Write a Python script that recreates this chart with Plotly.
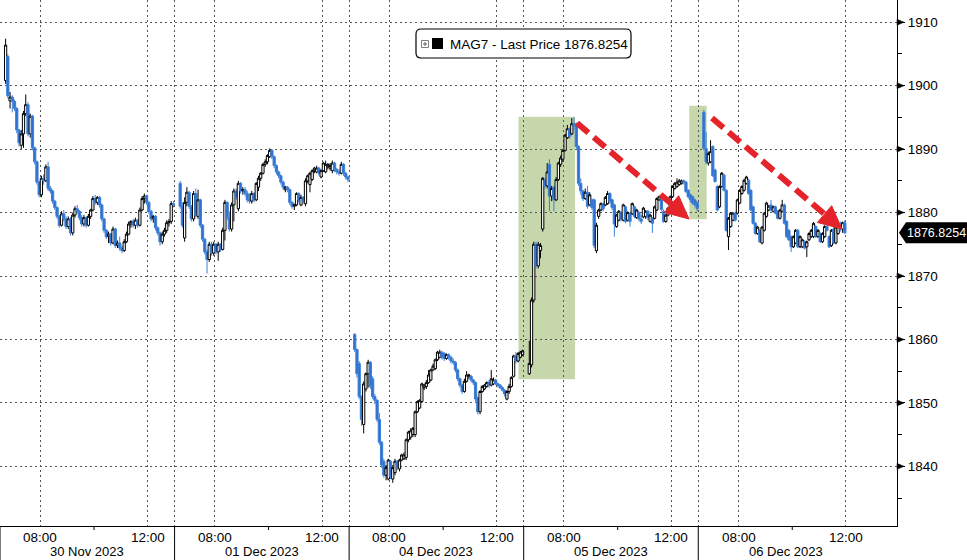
import plotly.graph_objects as go

# ---------------- data ----------------
DAY_LABELS = ["30 Nov 2023", "01 Dec 2023", "04 Dec 2023", "05 Dec 2023", "06 Dec 2023"]
SESSION_MIN = 390          # 06:30 - 13:00 session length (minutes)
BAR_MIN = 5                # 5-minute candles
FIRST_BAR = 2              # first printed bar of each session
TICK_TIMES = [("08:00", 90), ("12:00", 330)]   # minutes after 06:30
MINOR_TIME = 210           # 10:00
Y_TICKS = [1840, 1850, 1860, 1870, 1880, 1890, 1900, 1910]
LAST_PRICE = 1876.8254
SERIES_NAME = "MAG7 - Last Price"

# (open, high, low, close) per 5-min bar
nov30 = [
    (1900.8, 1907.4, 1900.3, 1906.4), (1904.6, 1905.0, 1898.0, 1898.4), (1897.6, 1899.0, 1896.4, 1898.2),
    (1898.2, 1898.5, 1895.8, 1897.5), (1897.5, 1897.8, 1896.0, 1896.4), (1896.4, 1896.6, 1892.5, 1893.0),
    (1893.0, 1893.2, 1890.4, 1891.0), (1890.6, 1893.0, 1890.0, 1892.4), (1892.4, 1896.0, 1890.2, 1895.6),
    (1895.6, 1898.6, 1895.2, 1897.0), (1897.0, 1897.4, 1892.0, 1892.4), (1892.4, 1895.6, 1891.8, 1895.2),
    (1895.2, 1895.4, 1889.8, 1890.2), (1890.2, 1890.4, 1887.6, 1888.0), (1888.0, 1888.2, 1884.4, 1884.8),
    (1884.8, 1885.0, 1882.4, 1882.8), (1882.8, 1885.8, 1882.4, 1885.4), (1885.4, 1886.0, 1884.4, 1885.0),
    (1885.0, 1887.6, 1884.8, 1887.2), (1887.2, 1888.0, 1883.4, 1883.8), (1883.8, 1884.2, 1883.0, 1883.4),
    (1883.4, 1883.6, 1881.4, 1881.8), (1881.8, 1882.0, 1880.4, 1880.8), (1880.8, 1881.0, 1879.0, 1879.4),
    (1879.4, 1879.6, 1877.6, 1878.0), (1878.0, 1880.2, 1877.8, 1879.8), (1879.8, 1880.4, 1878.6, 1879.0),
    (1879.0, 1879.4, 1877.4, 1877.8), (1877.8, 1879.4, 1877.4, 1879.0), (1879.0, 1879.3, 1876.4, 1876.8),
    (1876.8, 1880.0, 1876.4, 1879.6), (1879.6, 1881.0, 1879.2, 1880.6), (1880.6, 1881.2, 1879.8, 1880.2),
    (1880.2, 1880.4, 1878.8, 1879.2), (1879.2, 1879.6, 1877.8, 1878.2), (1878.2, 1879.6, 1877.8, 1879.2),
    (1879.2, 1879.4, 1877.6, 1878.0), (1878.0, 1879.8, 1877.8, 1879.4), (1879.4, 1880.6, 1879.0, 1880.4),
    (1880.4, 1882.6, 1880.2, 1882.2), (1882.2, 1882.8, 1881.2, 1881.6), (1881.6, 1882.6, 1881.2, 1882.4),
    (1882.4, 1882.6, 1880.8, 1881.2), (1881.2, 1881.4, 1878.6, 1879.0), (1879.0, 1879.2, 1876.8, 1877.2),
    (1877.2, 1877.4, 1875.8, 1876.2), (1876.2, 1877.0, 1875.2, 1876.6), (1876.6, 1876.8, 1874.8, 1875.2),
    (1875.2, 1877.8, 1875.0, 1877.4), (1877.4, 1877.6, 1874.4, 1874.8), (1874.8, 1875.6, 1874.4, 1875.2),
    (1875.2, 1876.2, 1874.0, 1874.4), (1874.4, 1874.8, 1873.6, 1874.0), (1874.0, 1875.8, 1873.8, 1875.4),
    (1875.4, 1877.0, 1875.2, 1876.6), (1876.6, 1878.6, 1876.4, 1878.2), (1878.2, 1878.8, 1877.6, 1878.6),
    (1878.6, 1879.0, 1877.6, 1878.0), (1878.0, 1879.2, 1877.4, 1878.8), (1878.8, 1879.0, 1877.6, 1878.0),
    (1878.0, 1880.8, 1877.8, 1880.4), (1880.4, 1882.6, 1880.2, 1882.2), (1882.2, 1883.0, 1881.4, 1882.6),
    (1882.6, 1882.8, 1881.2, 1881.6), (1881.6, 1881.8, 1879.8, 1880.2), (1880.2, 1880.4, 1878.6, 1879.0),
    (1879.0, 1879.6, 1878.4, 1879.4), (1879.4, 1879.6, 1877.2, 1877.6), (1877.6, 1877.8, 1876.4, 1876.8),
    (1876.8, 1877.0, 1874.8, 1875.4), (1875.4, 1877.0, 1875.0, 1876.6), (1876.6, 1877.6, 1876.2, 1877.2),
    (1877.2, 1878.8, 1876.8, 1878.4), (1878.4, 1879.0, 1877.8, 1878.6), (1878.6, 1881.8, 1878.2, 1881.4),
    (1881.4, 1881.8, 1880.8, 1881.2),
]

dec01 = [
    (1884.6, 1885.0, 1880.6, 1881.0), (1881.0, 1881.6, 1877.6, 1878.0), (1876.0, 1882.4, 1875.4, 1881.6),
    (1881.6, 1884.0, 1881.0, 1883.2), (1883.2, 1883.4, 1880.6, 1881.0), (1881.0, 1881.2, 1878.6, 1879.0),
    (1879.0, 1883.4, 1878.6, 1883.0), (1883.0, 1883.8, 1879.2, 1879.6), (1879.4, 1883.6, 1879.0, 1882.0),
    (1882.0, 1882.2, 1877.6, 1878.0), (1878.0, 1878.2, 1875.4, 1875.8), (1875.8, 1876.0, 1873.4, 1873.8),
    (1873.8, 1874.2, 1870.4, 1872.6), (1872.6, 1875.4, 1872.2, 1875.0), (1875.0, 1875.4, 1873.2, 1873.6),
    (1873.6, 1875.4, 1873.2, 1875.0), (1875.0, 1875.2, 1873.4, 1873.8), (1873.8, 1875.4, 1872.4, 1875.0),
    (1875.0, 1875.2, 1873.8, 1874.2), (1874.2, 1877.6, 1874.0, 1877.2), (1877.2, 1882.0, 1875.6, 1881.6),
    (1881.6, 1881.8, 1878.8, 1879.2), (1879.2, 1880.2, 1877.0, 1877.4), (1877.4, 1881.6, 1877.0, 1881.2),
    (1881.2, 1883.8, 1878.6, 1883.4), (1883.4, 1883.8, 1882.0, 1882.4), (1880.6, 1885.0, 1880.2, 1884.6),
    (1884.6, 1884.8, 1883.0, 1883.4), (1883.4, 1884.0, 1882.8, 1883.6), (1883.6, 1884.0, 1882.6, 1883.0),
    (1883.0, 1883.4, 1881.6, 1882.0), (1882.0, 1883.0, 1881.4, 1881.8), (1881.8, 1883.4, 1881.4, 1883.0),
    (1883.0, 1883.2, 1881.6, 1882.0), (1882.0, 1884.8, 1881.8, 1884.6), (1884.0, 1885.8, 1883.4, 1885.4),
    (1885.4, 1886.4, 1885.0, 1886.2), (1886.2, 1887.8, 1886.0, 1887.6), (1887.6, 1888.4, 1887.2, 1888.0),
    (1888.0, 1889.2, 1887.6, 1889.0), (1888.8, 1890.1, 1888.6, 1889.8), (1889.8, 1890.0, 1888.4, 1888.8),
    (1888.8, 1889.0, 1887.0, 1887.4), (1887.4, 1887.6, 1886.0, 1886.4), (1886.4, 1886.6, 1885.4, 1885.8),
    (1885.8, 1886.0, 1884.4, 1884.8), (1884.8, 1885.0, 1883.6, 1884.0), (1883.6, 1884.2, 1883.2, 1884.0),
    (1884.0, 1884.2, 1883.2, 1883.6), (1883.6, 1883.8, 1881.2, 1881.6), (1881.6, 1881.8, 1880.6, 1881.0),
    (1881.0, 1881.4, 1880.4, 1881.2), (1881.2, 1883.2, 1881.0, 1883.0), (1883.0, 1883.2, 1881.6, 1882.0),
    (1881.2, 1882.8, 1881.0, 1882.4), (1882.4, 1882.6, 1881.4, 1881.8), (1881.4, 1885.4, 1881.0, 1885.0),
    (1885.0, 1886.0, 1884.6, 1885.8), (1884.4, 1886.4, 1883.2, 1886.2), (1885.2, 1886.8, 1885.0, 1886.6),
    (1886.6, 1887.2, 1886.2, 1887.0), (1886.4, 1887.4, 1886.2, 1887.0), (1887.0, 1887.2, 1885.8, 1886.2),
    (1885.6, 1886.8, 1885.4, 1886.6), (1886.6, 1888.0, 1886.4, 1887.8), (1886.4, 1888.2, 1886.2, 1887.6),
    (1887.2, 1887.8, 1886.8, 1887.6), (1887.0, 1887.8, 1886.6, 1887.4), (1886.6, 1888.2, 1886.2, 1887.8),
    (1887.8, 1888.0, 1886.4, 1886.8), (1886.8, 1887.0, 1886.0, 1886.4), (1886.4, 1886.8, 1885.8, 1886.2),
    (1886.2, 1888.0, 1886.0, 1887.6), (1887.6, 1887.8, 1885.8, 1886.2), (1886.2, 1886.4, 1885.2, 1885.6),
    (1885.6, 1885.8, 1884.8, 1885.2),
]

dec04 = [
    (1860.8, 1861.0, 1858.0, 1858.4), (1858.4, 1858.6, 1854.0, 1854.6), (1856.2, 1856.6, 1850.6, 1851.0),
    (1851.0, 1851.2, 1846.4, 1847.4), (1846.6, 1853.4, 1845.2, 1853.0), (1852.2, 1854.8, 1851.8, 1854.6),
    (1854.6, 1856.8, 1852.4, 1856.4), (1856.4, 1856.6, 1852.2, 1852.6), (1853.8, 1854.2, 1850.6, 1851.0),
    (1851.0, 1851.4, 1849.8, 1850.4), (1850.4, 1850.6, 1847.0, 1847.4), (1847.4, 1848.4, 1843.4, 1843.8),
    (1843.8, 1844.0, 1839.8, 1840.2), (1840.8, 1841.2, 1838.2, 1838.6), (1838.6, 1840.2, 1837.8, 1839.8),
    (1838.0, 1841.2, 1837.8, 1841.0), (1840.8, 1841.0, 1838.0, 1838.4), (1838.0, 1840.2, 1837.4, 1839.8),
    (1839.0, 1841.2, 1838.6, 1840.8), (1840.8, 1841.0, 1839.4, 1839.8), (1839.6, 1841.2, 1839.2, 1841.0),
    (1841.0, 1842.0, 1840.8, 1841.8), (1841.2, 1842.2, 1841.0, 1841.8), (1841.4, 1844.4, 1841.0, 1844.2),
    (1844.2, 1845.6, 1843.8, 1845.4), (1844.6, 1846.0, 1844.2, 1845.6), (1845.0, 1846.2, 1844.6, 1846.0),
    (1845.0, 1848.8, 1844.6, 1848.6), (1848.6, 1850.4, 1848.4, 1850.2), (1849.2, 1850.6, 1849.0, 1850.4),
    (1850.2, 1853.2, 1850.0, 1853.0), (1852.4, 1853.0, 1852.0, 1852.8), (1852.6, 1853.6, 1852.2, 1853.2),
    (1853.2, 1855.2, 1853.0, 1854.4), (1853.6, 1855.4, 1853.4, 1855.2), (1855.2, 1856.2, 1855.0, 1855.8),
    (1855.4, 1857.0, 1855.2, 1856.8), (1856.8, 1858.2, 1856.6, 1858.0), (1857.2, 1858.4, 1857.0, 1858.0),
    (1858.0, 1858.2, 1856.8, 1857.2), (1857.8, 1858.0, 1856.6, 1857.0), (1857.0, 1857.8, 1856.8, 1857.6),
    (1857.6, 1857.8, 1856.8, 1857.2), (1857.2, 1857.4, 1856.2, 1856.6), (1856.6, 1857.0, 1856.0, 1856.4),
    (1856.4, 1856.6, 1854.8, 1855.2), (1855.2, 1855.4, 1853.4, 1853.8), (1853.8, 1854.0, 1852.4, 1852.8),
    (1852.8, 1853.0, 1851.4, 1851.8), (1851.8, 1853.8, 1851.6, 1853.4), (1853.4, 1855.0, 1853.2, 1854.4),
    (1854.2, 1854.6, 1853.8, 1854.4), (1854.2, 1854.4, 1853.2, 1853.6), (1853.6, 1853.8, 1852.8, 1853.2),
    (1853.2, 1853.4, 1850.2, 1850.6), (1850.8, 1851.0, 1848.2, 1848.6), (1848.6, 1852.0, 1848.2, 1851.8),
    (1851.8, 1852.8, 1851.6, 1852.6), (1852.2, 1853.0, 1852.0, 1852.8), (1852.6, 1853.4, 1852.4, 1853.2),
    (1853.2, 1853.6, 1852.4, 1852.8), (1852.8, 1855.2, 1852.6, 1853.8), (1853.0, 1854.0, 1852.8, 1853.6),
    (1853.6, 1853.8, 1852.8, 1853.0), (1853.0, 1853.2, 1852.4, 1852.8), (1852.8, 1853.0, 1852.2, 1852.4),
    (1852.4, 1852.6, 1851.8, 1852.0), (1852.0, 1852.2, 1851.0, 1851.4), (1850.6, 1852.0, 1850.4, 1851.8),
    (1851.8, 1853.0, 1851.4, 1852.6), (1852.6, 1854.2, 1852.4, 1854.0), (1854.2, 1857.6, 1854.0, 1857.4),
    (1857.4, 1858.0, 1856.2, 1856.6), (1856.6, 1858.0, 1856.4, 1857.8), (1857.2, 1858.2, 1857.0, 1858.0),
    (1857.6, 1858.4, 1857.4, 1858.2),
]

dec05 = [
    (1854.6, 1859.8, 1854.4, 1856.2), (1856.0, 1866.6, 1855.6, 1866.2), (1866.2, 1875.4, 1865.8, 1875.0),
    (1875.0, 1875.4, 1871.2, 1871.6), (1871.6, 1875.4, 1871.2, 1875.0), (1874.0, 1875.2, 1872.8, 1874.8),
    (1877.4, 1885.6, 1877.0, 1885.4), (1885.0, 1885.4, 1883.8, 1884.2), (1884.2, 1887.8, 1883.8, 1886.4),
    (1887.6, 1888.4, 1880.2, 1882.6), (1882.6, 1884.2, 1881.8, 1883.8), (1884.0, 1884.2, 1880.2, 1882.0),
    (1882.0, 1885.6, 1881.8, 1885.2), (1885.2, 1888.0, 1885.0, 1887.8), (1887.6, 1889.0, 1887.2, 1888.6),
    (1888.4, 1890.0, 1888.0, 1889.8), (1889.8, 1892.4, 1889.6, 1892.2), (1891.8, 1893.8, 1891.6, 1893.2),
    (1893.2, 1893.4, 1891.6, 1892.0), (1892.4, 1894.9, 1892.2, 1894.0), (1894.0, 1895.0, 1893.0, 1893.6),
    (1894.0, 1894.2, 1890.0, 1890.4), (1890.4, 1890.6, 1884.2, 1884.6), (1884.6, 1885.4, 1882.8, 1883.4),
    (1883.4, 1883.6, 1881.8, 1882.2), (1882.2, 1883.8, 1882.0, 1883.2), (1883.2, 1884.2, 1880.6, 1881.0),
    (1881.2, 1883.2, 1881.0, 1882.8), (1882.0, 1882.2, 1880.4, 1880.8), (1882.0, 1882.2, 1874.4, 1874.8),
    (1874.0, 1878.4, 1873.6, 1878.0), (1879.4, 1880.6, 1879.0, 1880.4), (1880.4, 1881.6, 1880.2, 1881.4),
    (1881.4, 1881.6, 1880.2, 1880.6), (1881.2, 1882.6, 1881.0, 1882.4), (1881.4, 1883.4, 1881.2, 1883.0),
    (1883.0, 1883.2, 1881.4, 1881.8), (1882.0, 1882.2, 1880.4, 1880.8), (1881.2, 1881.4, 1876.2, 1878.2),
    (1877.8, 1879.8, 1877.6, 1879.6), (1878.8, 1880.4, 1878.6, 1880.2), (1880.0, 1880.2, 1878.6, 1879.0),
    (1878.8, 1881.4, 1878.6, 1881.2), (1880.9, 1881.1, 1878.3, 1878.6), (1878.8, 1880.2, 1878.6, 1880.0),
    (1879.8, 1880.0, 1877.8, 1878.6), (1879.8, 1881.6, 1879.6, 1881.4), (1880.9, 1881.1, 1879.1, 1879.4),
    (1879.2, 1880.6, 1879.0, 1880.4), (1880.0, 1880.2, 1878.6, 1879.0), (1879.0, 1879.6, 1878.2, 1878.6),
    (1879.3, 1880.9, 1879.1, 1880.7), (1879.4, 1880.4, 1879.0, 1880.2), (1880.2, 1880.4, 1878.8, 1879.2),
    (1878.6, 1879.8, 1878.4, 1879.6), (1879.1, 1879.3, 1876.8, 1878.3), (1879.1, 1881.1, 1878.9, 1880.9),
    (1880.4, 1882.4, 1880.2, 1882.2), (1882.0, 1882.7, 1881.8, 1882.5), (1882.0, 1882.3, 1880.2, 1880.5),
    (1880.2, 1880.5, 1878.4, 1878.6), (1878.6, 1879.8, 1878.4, 1879.6), (1879.6, 1880.9, 1879.4, 1880.7),
    (1880.4, 1882.7, 1880.2, 1882.5), (1882.5, 1884.3, 1882.3, 1884.1), (1883.8, 1884.8, 1883.6, 1884.6),
    (1884.1, 1885.4, 1883.9, 1884.8), (1884.4, 1885.3, 1884.2, 1885.0), (1884.6, 1885.2, 1884.4, 1885.0),
    (1885.0, 1885.2, 1884.4, 1884.8), (1884.8, 1885.0, 1883.1, 1883.3), (1883.5, 1883.7, 1882.2, 1882.5),
    (1882.8, 1883.0, 1881.6, 1882.0), (1882.5, 1882.7, 1881.2, 1881.5), (1882.0, 1882.2, 1880.8, 1881.2),
    (1881.6, 1881.8, 1880.2, 1880.6),
]

dec06 = [
    (1895.8, 1896.2, 1889.8, 1890.1), (1890.1, 1892.7, 1887.6, 1888.0), (1887.8, 1889.6, 1887.4, 1889.3),
    (1888.0, 1891.4, 1887.8, 1889.6), (1890.4, 1890.6, 1885.6, 1885.8), (1886.7, 1886.9, 1884.7, 1884.9),
    (1884.1, 1884.3, 1880.2, 1880.4), (1880.9, 1884.3, 1880.7, 1884.1), (1884.1, 1886.4, 1883.9, 1886.2),
    (1885.9, 1886.1, 1883.3, 1883.5), (1883.5, 1883.7, 1877.0, 1877.2), (1876.2, 1879.3, 1874.1, 1879.1),
    (1877.8, 1880.1, 1877.6, 1879.9), (1878.8, 1880.1, 1878.6, 1879.9), (1879.9, 1880.1, 1878.6, 1878.8),
    (1879.9, 1882.2, 1879.7, 1882.0), (1881.5, 1883.7, 1881.3, 1883.5), (1883.0, 1884.3, 1882.8, 1884.1),
    (1883.5, 1885.3, 1883.3, 1885.1), (1884.6, 1885.8, 1884.4, 1885.6), (1885.1, 1885.3, 1882.8, 1883.0),
    (1883.5, 1883.7, 1880.2, 1880.4), (1880.9, 1881.1, 1878.1, 1878.3), (1878.3, 1878.5, 1876.5, 1876.7),
    (1876.7, 1877.9, 1876.5, 1877.7), (1877.2, 1877.4, 1875.2, 1875.4), (1875.2, 1877.9, 1875.0, 1877.7),
    (1877.2, 1880.1, 1877.0, 1879.9), (1879.4, 1881.7, 1879.2, 1881.5), (1880.4, 1881.2, 1880.2, 1881.0),
    (1881.2, 1882.0, 1880.2, 1880.4), (1880.2, 1881.1, 1880.0, 1880.9), (1880.9, 1881.1, 1879.7, 1879.9),
    (1880.2, 1880.4, 1878.9, 1879.1), (1879.1, 1880.6, 1878.9, 1880.4), (1880.2, 1882.0, 1880.0, 1881.2),
    (1881.2, 1881.4, 1878.1, 1878.3), (1878.6, 1878.8, 1876.0, 1876.2), (1877.2, 1877.4, 1875.5, 1875.7),
    (1876.2, 1876.4, 1873.8, 1874.6), (1874.6, 1876.4, 1874.4, 1876.2), (1875.2, 1877.4, 1875.0, 1877.2),
    (1877.2, 1877.4, 1874.4, 1874.6), (1874.6, 1876.4, 1874.4, 1876.2), (1874.6, 1875.9, 1874.4, 1875.7),
    (1875.4, 1875.6, 1874.2, 1874.4), (1874.6, 1875.6, 1873.0, 1875.4), (1875.7, 1876.9, 1875.5, 1876.7),
    (1876.2, 1877.4, 1876.0, 1877.2), (1876.2, 1878.5, 1876.0, 1878.3), (1877.8, 1878.0, 1876.0, 1876.2),
    (1876.2, 1877.4, 1876.0, 1877.2), (1876.7, 1876.9, 1875.2, 1875.4), (1875.4, 1876.9, 1875.2, 1876.7),
    (1876.2, 1878.0, 1876.0, 1877.8), (1877.8, 1878.5, 1877.0, 1877.2), (1876.2, 1876.4, 1874.4, 1874.6),
    (1874.8, 1877.4, 1874.6, 1877.2), (1877.4, 1878.0, 1875.0, 1875.2), (1875.2, 1877.9, 1875.0, 1877.7),
    (1876.7, 1878.3, 1876.5, 1878.0), (1877.8, 1878.6, 1877.0, 1877.4), (1877.4, 1878.6, 1876.8, 1878.4),
    (1878.4, 1878.8, 1876.6, 1876.8254),
]

SESSIONS = [nov30, dec01, dec04, dec05, dec06]

# ---------------- geometry helpers ----------------
FIG_W, FIG_H = 967, 560
M_L, M_R, M_T, M_B = 0, 70, 0, 34
PLOT_W = FIG_W - M_L - M_R
PLOT_H = FIG_H - M_T - M_B
X_MAX = 2004.0
Y_MIN, Y_MAX = 1830.6, 1913.5

def px_x(px):
    return px / PLOT_W * X_MAX

def px_y(py):
    return Y_MAX - py / PLOT_H * (Y_MAX - Y_MIN)

def pap_x(px):
    return px / PLOT_W

def pap_y(py):
    return 1 - py / PLOT_H

# ---------------- build OHLC arrays ----------------
xs, o, h, l, c = [], [], [], [], []
for d, rows in enumerate(SESSIONS):
    for k, (ro, rh, rl, rc) in enumerate(rows):
        xs.append(d * SESSION_MIN + (FIRST_BAR + k) * BAR_MIN + BAR_MIN / 2)
        o.append(ro); h.append(rh); l.append(rl); c.append(rc)

RED = "#e4232b"
GREEN = "#c6d7ab"
FONT = "Liberation Sans, Arial, sans-serif"

fig = go.Figure()
fig.add_trace(go.Candlestick(
    x=xs, open=o, high=h, low=l, close=c,
    increasing=dict(line=dict(color="#000000", width=1), fillcolor="#ffffff"),
    decreasing=dict(line=dict(color="#3b7fd6", width=1), fillcolor="#2f6fcf"),
    whiskerwidth=0, showlegend=False, hoverinfo="skip",
))

shapes = []
annotations = []

# green highlight boxes
for (x0, y0, x1, y1) in [(518.5, 116.7, 575.0, 379.3), (689.3, 105.7, 706.7, 219.3)]:
    shapes.append(dict(type="rect", xref="x", yref="y", layer="below",
                       x0=px_x(x0), x1=px_x(x1), y0=px_y(y1), y1=px_y(y0),
                       fillcolor=GREEN, line=dict(width=0)))

# red dashed arrows
for (sx, sy, tx, ty) in [(577, 123, 689, 219), (712, 118, 842, 229)]:
    dx, dy = tx - sx, ty - sy
    ln = (dx * dx + dy * dy) ** 0.5
    ux, uy = dx / ln, dy / ln
    nx, ny = -uy, ux
    head_l, head_w = 23, 11
    bx, by = tx - head_l * ux, ty - head_l * uy
    shapes.append(dict(type="line", xref="x", yref="y", layer="above",
                       x0=px_x(sx), y0=px_y(sy), x1=px_x(bx + 2 * ux), y1=px_y(by + 2 * uy),
                       line=dict(color=RED, width=6, dash="15px,7px")))
    pts = [(tx, ty), (bx + head_w * nx, by + head_w * ny), (bx - head_w * nx, by - head_w * ny)]
    path = "M {} {} L {} {} L {} {} Z".format(*[v for p in pts for v in (px_x(p[0]), px_y(p[1]))])
    shapes.append(dict(type="path", xref="x", yref="y", layer="above", path=path,
                       fillcolor=RED, line=dict(color=RED, width=1)))

# day separators below the axis, 10:00 minor ticks, time and date labels
for d in range(len(SESSIONS)):
    shapes.append(dict(type="line", xref="x", yref="paper", x0=d * SESSION_MIN, x1=d * SESSION_MIN,
                       y0=0, y1=pap_y(FIG_H + 2), line=dict(color="#000000", width=1)))
    shapes.append(dict(type="line", xref="x", yref="paper",
                       x0=d * SESSION_MIN + MINOR_TIME, x1=d * SESSION_MIN + MINOR_TIME,
                       y0=0, y1=pap_y(PLOT_H + 4), line=dict(color="#000000", width=1)))
    for lab, m in TICK_TIMES:
        annotations.append(dict(x=d * SESSION_MIN + m, y=pap_y(537.5), xref="x", yref="paper",
                                text=lab, showarrow=False, xanchor="center", yanchor="middle",
                                font=dict(family=FONT, size=13.5, color="#000000")))
    annotations.append(dict(x=d * SESSION_MIN + SESSION_MIN / 2, y=pap_y(551.5), xref="x", yref="paper",
                            text=DAY_LABELS[d], showarrow=False, xanchor="center", yanchor="middle",
                            font=dict(family=FONT, size=13, color="#000000")))

# y tick triangles
tri_dx = 7 / PLOT_W
tri_dy = 3.0 * (Y_MAX - Y_MIN) / PLOT_H
for v in Y_TICKS:
    shapes.append(dict(type="path", xref="paper", yref="y",
                       path=f"M 1 {v + tri_dy} L {1 + tri_dx} {v} L 1 {v - tri_dy} Z",
                       fillcolor="#000000", line=dict(color="#000000", width=0.5)))

# last price tag
ly = PLOT_H * (Y_MAX - LAST_PRICE) / (Y_MAX - Y_MIN)
tag = [(899, ly), (906, ly - 10.5), (967, ly - 10.5), (967, ly + 10.5), (906, ly + 10.5)]
shapes.append(dict(type="path", xref="paper", yref="paper",
                   path="M " + " L ".join(f"{pap_x(a)} {pap_y(b)}" for a, b in tag) + " Z",
                   fillcolor="#000000", line=dict(color="#000000", width=0)))
annotations.append(dict(x=pap_x(936), y=pap_y(ly), xref="paper", yref="paper",
                        text=f"{LAST_PRICE:.4f}", showarrow=False, xanchor="center", yanchor="middle",
                        font=dict(family=FONT, size=12.5, color="#ffffff")))

# legend box with rounded corners
bx0, by0, bx1, by1, r = 416, 29, 631, 58, 5
seg = [
    ("M", bx0 + r, by0), ("L", bx1 - r, by0), ("Q", bx1, by0, bx1, by0 + r),
    ("L", bx1, by1 - r), ("Q", bx1, by1, bx1 - r, by1), ("L", bx0 + r, by1),
    ("Q", bx0, by1, bx0, by1 - r), ("L", bx0, by0 + r), ("Q", bx0, by0, bx0 + r, by0),
]
parts = []
for s in seg:
    cmd, vals = s[0], s[1:]
    coords = []
    for i in range(0, len(vals), 2):
        coords.append(f"{pap_x(vals[i])} {pap_y(vals[i + 1])}")
    parts.append(cmd + " " + " ".join(coords))
shapes.append(dict(type="path", xref="paper", yref="paper", path=" ".join(parts) + " Z",
                   fillcolor="#ffffff", line=dict(color="#000000", width=1.2)))
# legend icons
shapes.append(dict(type="rect", xref="paper", yref="paper", x0=pap_x(421.5), x1=pap_x(428.5),
                   y0=pap_y(47.5), y1=pap_y(40.5), fillcolor="#ffffff", line=dict(color="#808080", width=1)))
shapes.append(dict(type="line", xref="paper", yref="paper", x0=pap_x(423), x1=pap_x(427),
                   y0=pap_y(44), y1=pap_y(44), line=dict(color="#606060", width=1)))
shapes.append(dict(type="line", xref="paper", yref="paper", x0=pap_x(425), x1=pap_x(425),
                   y0=pap_y(42), y1=pap_y(46), line=dict(color="#606060", width=1)))
shapes.append(dict(type="rect", xref="paper", yref="paper", x0=pap_x(432), x1=pap_x(443),
                   y0=pap_y(49), y1=pap_y(38), fillcolor="#000000", line=dict(color="#000000", width=0)))
annotations.append(dict(x=pap_x(448), y=pap_y(44), xref="paper", yref="paper",
                        text=f"{SERIES_NAME} {LAST_PRICE:.4f}", showarrow=False,
                        xanchor="left", yanchor="middle",
                        font=dict(family=FONT, size=13.5, color="#000000")))

# x grid positions: session boundaries + 08:00 / 12:00
gridvals = []
for d in range(len(SESSIONS)):
    gridvals.append(d * SESSION_MIN)
    for lab, m in TICK_TIMES:
        gridvals.append(d * SESSION_MIN + m)

GRID = "#555555"
fig.update_layout(
    width=FIG_W, height=FIG_H,
    margin=dict(l=M_L, r=M_R, t=M_T, b=M_B, pad=0),
    paper_bgcolor="#ffffff", plot_bgcolor="#ffffff",
    showlegend=False, boxgap=0.0, boxgroupgap=0.0,
    shapes=shapes, annotations=annotations,
    xaxis=dict(
        range=[0, X_MAX], rangeslider=dict(visible=False),
        tickmode="array", tickvals=gridvals, ticktext=["" for _ in gridvals],
        showgrid=True, gridcolor=GRID, griddash="2px,3px", gridwidth=1,
        showline=True, linecolor="#000000", linewidth=1,
        ticks="", zeroline=False, fixedrange=True,
    ),
    yaxis=dict(
        side="right", range=[Y_MIN, Y_MAX],
        tickmode="array", tickvals=Y_TICKS, ticktext=[str(v) for v in Y_TICKS],
        showgrid=True, gridcolor=GRID, griddash="2px,3px", gridwidth=1,
        showline=True, linecolor="#000000", linewidth=1,
        ticks="outside", ticklen=7, tickcolor="#000000",
        minor=dict(tickvals=[v + 5 for v in Y_TICKS[:-1]] + [1835], ticks="outside",
                   ticklen=4, tickcolor="#000000", showgrid=False),
        zeroline=False,
        tickfont=dict(family=FONT, size=13.5, color="#000000"),
        fixedrange=True,
    ),
)

fig.write_html(
    "out.html",
    config={"displayModeBar": False, "staticPlot": True},
    post_script="document.body.style.margin='0';document.body.style.overflow='hidden';",
)
